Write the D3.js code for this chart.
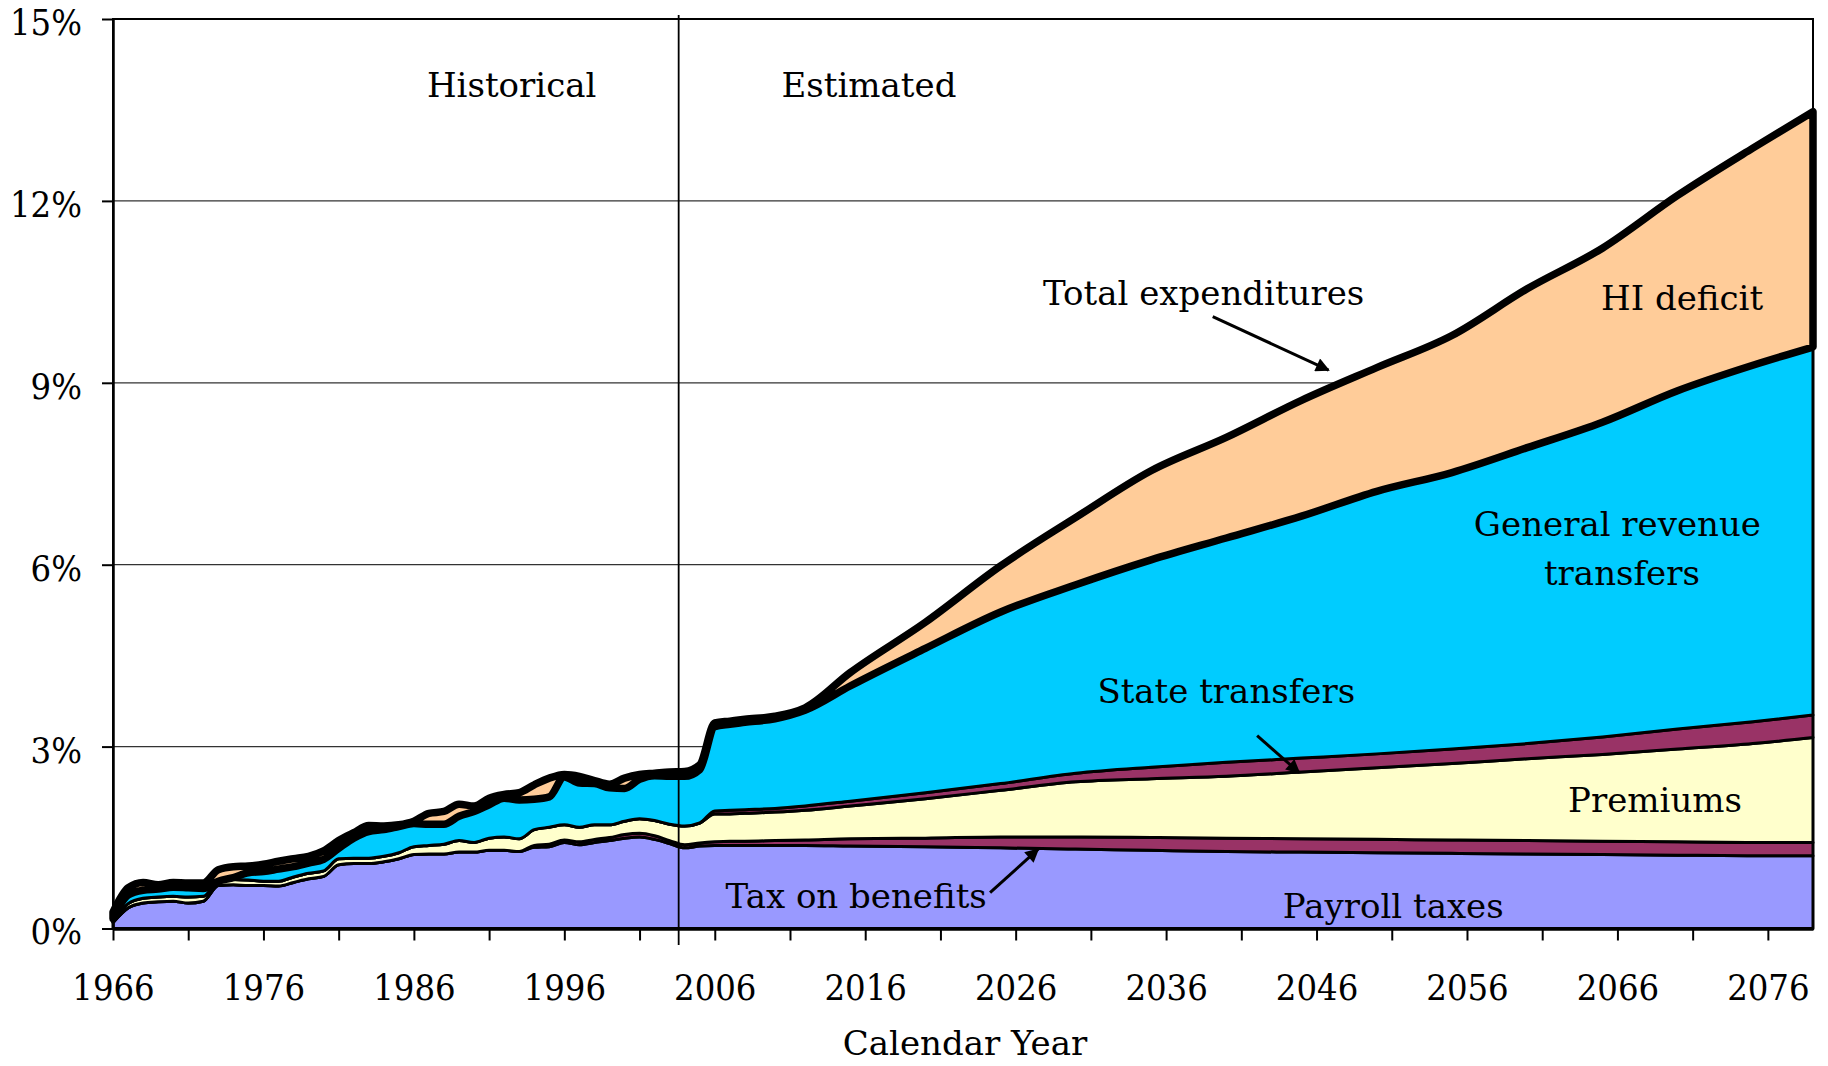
<!DOCTYPE html>
<html>
<head>
<meta charset="utf-8">
<script src="https://cdnjs.cloudflare.com/ajax/libs/d3/7.8.5/d3.min.js"></script>
<style>
  body { margin: 0; background: #fff; }
  svg text { font-family: "DejaVu Serif", serif; fill: #000; }
</style>
</head>
<body>
<svg id="chart" width="1828" height="1066"></svg>
<script>
// years: annual history, then sparser points for the projection
var years = [1966,1967,1968,1969,1970,1971,1972,1973,1974,1975,
             1976,1977,1978,1979,1980,1981,1982,1983,1984,1985,
             1986,1987,1988,1989,1990,1991,1992,1993,1994,1995,
             1996,1997,1998,1999,2000,2001,2002,2003,2004,2005,
             2006,2007,2008,2010,2012,2015,
             2020,2025,2030,2035,2040,2045,2050,2055,2060,2065,2070,2075,2079];

// % of GDP for each source (stacked bottom to top)
var payroll = [.10,.34,.42,.44,.45,.42,.45,.71,.72,.71,
               .71,.70,.76,.82,.86,1.05,1.07,1.07,1.10,1.15,
               1.22,1.23,1.23,1.26,1.26,1.29,1.29,1.27,1.34,1.35,
               1.42,1.38,1.42,1.45,1.49,1.51,1.47,1.40,1.33,1.36,
               1.37,1.37,1.37,1.37,1.37,1.36,
               1.35,1.33,1.31,1.29,1.27,1.26,1.25,1.24,1.23,1.22,1.21,1.20,1.20];
var taxOnBenefits = [0,0,0,0,0,0,0,0,0,0,
                     0,0,0,0,0,0,0,0,0,0,
                     0,0,0,0,0,0,0,0,.03,.04,
                     .04,.05,.05,.05,.06,.06,.06,.05,.05,.05,
                     .06,.07,.07,.08,.09,.12,
                     .14,.18,.20,.21,.22,.22,.22,.22,.22,.22,.22,.22,.22];
var premiums = [.03,.07,.08,.08,.08,.10,.08,.07,.09,.09,
                .07,.08,.09,.09,.09,.10,.09,.09,.09,.10,
                .13,.14,.16,.19,.16,.20,.22,.21,.26,.28,
                .25,.24,.24,.21,.22,.24,.25,.27,.31,.33,
                .46,.45,.46,.47,.49,.54,
                .65,.77,.91,.97,1.02,1.10,1.18,1.26,1.35,1.43,1.53,1.63,1.73];
var stateTransfers = [0,0,0,0,0,0,0,0,0,0,
                      0,0,0,0,0,0,0,0,0,0,
                      0,0,0,0,0,0,0,0,0,0,
                      0,0,0,0,0,0,0,0,0,0,
                      .05,.06,.06,.06,.07,.08,
                      .10,.11,.14,.19,.23,.23,.23,.24,.25,.29,.33,.36,.37];
var generalRevenue = [.03,.14,.13,.13,.15,.15,.13,0,.03,.12,
                      .16,.20,.17,.17,.19,.17,.33,.44,.44,.43,
                      .38,.35,.33,.40,.51,.55,.64,.64,.50,.50,
                      .79,.73,.68,.61,.54,.65,.74,.79,.82,.88,
                      1.39,1.42,1.44,1.48,1.58,1.90,
                      2.38,2.83,3.11,3.42,3.70,3.99,4.33,4.56,4.88,5.19,5.58,5.88,6.07];
var hiDeficit = [.11,.12,.13,.07,.08,.08,.09,.19,.18,.11,
                 .12,.13,.13,.11,.14,.13,.09,.10,.06,.03,
                 .04,.18,.21,.20,.09,.11,.06,.12,.24,.31,
                 .04,.11,.05,.06,.17,.08,.04,.07,.08,.08,
                 .06,.05,.05,.04,.04,.22,
                 .43,.76,1.11,1.47,1.66,1.91,2.04,2.26,2.62,2.87,3.22,3.58,3.88];

var yTicks = [0, 3, 6, 9, 12, 15];
var xTicks = d3.range(1966, 2080, 5);
var lastHistorical = 2003.6;   // boundary between historical and estimated

var keys = ['payroll', 'taxOnBenefits', 'premiums', 'stateTransfers', 'generalRevenue', 'hiDeficit'];
var colors = {
    payroll: '#9999FF',
    taxOnBenefits: '#993366',
    premiums: '#FFFFCC',
    stateTransfers: '#993366',
    generalRevenue: '#00CCFF',
    hiDeficit: '#FFCC99'
};

var rows = years.map(function (yr, i) {
    return {
        year: yr,
        payroll: payroll[i],
        taxOnBenefits: taxOnBenefits[i],
        premiums: premiums[i],
        stateTransfers: stateTransfers[i],
        generalRevenue: generalRevenue[i],
        hiDeficit: hiDeficit[i]
    };
});

var svg = d3.select('#chart');

var x = d3.scaleLinear().domain([1966, 2079]).range([113, 1813]);
var y = d3.scaleLinear().domain([0, 15]).range([928.5, 19]);

// gridlines (behind the areas)
svg.append('g').selectAll('line')
    .data(yTicks.filter(function (d) { return d > 0 && d < 15; }))
    .enter().append('line')
    .attr('x1', x(1966)).attr('x2', x(2079))
    .attr('y1', function (d) { return y(d); })
    .attr('y2', function (d) { return y(d); })
    .attr('stroke', '#333').attr('stroke-width', 1.2);

// stacked areas
var series = d3.stack().keys(keys)(rows);

var area = d3.area()
    .x(function (d) { return x(d.data.year); })
    .y0(function (d) { return y(d[0]); })
    .y1(function (d) { return y(d[1]); })
    .curve(d3.curveMonotoneX);

svg.append('g').selectAll('path')
    .data(series)
    .enter().append('path')
    .attr('d', area)
    .attr('fill', function (d) { return colors[d.key]; })
    .attr('stroke', '#000')
    .attr('stroke-linejoin', 'round')
    .attr('stroke-width', function (d) { return d.key === 'hiDeficit' ? 7.5 : 3; });

// plot frame
svg.append('rect')
    .attr('x', x(1966)).attr('y', y(15))
    .attr('width', x(2079) - x(1966)).attr('height', y(0) - y(15))
    .attr('fill', 'none').attr('stroke', '#000').attr('stroke-width', 2);

// y axis
var yAxis = d3.axisLeft(y)
    .tickValues(yTicks)
    .tickFormat(function (d) { return d + '%'; })
    .tickSize(11).tickSizeOuter(0).tickPadding(20);

var gy = svg.append('g').attr('transform', 'translate(' + x(1966) + ',0)').call(yAxis);
gy.select('.domain').attr('stroke-width', 2.5);
gy.selectAll('.tick line').attr('stroke-width', 2);
gy.selectAll('.tick text')
    .attr('dy', '0.43em')
    .style('font-family', '"DejaVu Serif", serif')
    .style('font-stretch', 'condensed')
    .style('font-size', '36px');

// x axis
var xAxis = d3.axisBottom(x)
    .tickValues(xTicks)
    .tickFormat(function (d) { return (d - 1966) % 10 === 0 ? d : ''; })
    .tickSize(12).tickSizeOuter(0).tickPadding(34);

var gx = svg.append('g').attr('transform', 'translate(0,' + y(0) + ')').call(xAxis);
gx.select('.domain').attr('stroke-width', 3.5);
gx.selectAll('.tick line').attr('stroke-width', 2);
gx.selectAll('.tick text')
    .style('font-family', '"DejaVu Serif", serif')
    .style('font-stretch', 'condensed')
    .style('font-size', '36px');

// historical / estimated divider
svg.append('line')
    .attr('x1', x(lastHistorical)).attr('x2', x(lastHistorical))
    .attr('y1', 15).attr('y2', 945)
    .attr('stroke', '#000').attr('stroke-width', 1.8);

// axis title
svg.append('text')
    .attr('x', 965).attr('y', 1055)
    .attr('text-anchor', 'middle')
    .style('font-size', '34px')
    .text('Calendar Year');

// labels, placed in chart units [year, %]
var labels = [
    { text: 'Historical', at: [1992.5, 13.71] },
    { text: 'Estimated', at: [2016.25, 13.71] },
    { text: 'Total expenditures', at: [2038.5, 10.29] },
    { text: 'HI deficit', at: [2070.3, 10.2] },
    { text: 'General revenue', at: [2066.0, 6.47] },
    { text: 'transfers', at: [2066.3, 5.67] },
    { text: 'State transfers', at: [2040.0, 3.72] },
    { text: 'Premiums', at: [2068.5, 1.92] },
    { text: 'Tax on benefits', at: [2015.4, 0.33] },
    { text: 'Payroll taxes', at: [2051.1, 0.17] }
];

svg.append('g').selectAll('text')
    .data(labels)
    .enter().append('text')
    .attr('x', function (d) { return x(d.at[0]); })
    .attr('y', function (d) { return y(d.at[1]); })
    .attr('text-anchor', 'middle')
    .style('font-size', '34px')
    .text(function (d) { return d.text; });

// arrows
svg.append('defs').append('marker')
    .attr('id', 'head')
    .attr('viewBox', '0 0 10 10')
    .attr('refX', 9).attr('refY', 5)
    .attr('markerUnits', 'userSpaceOnUse')
    .attr('markerWidth', 17).attr('markerHeight', 14)
    .attr('orient', 'auto')
    .append('path')
    .attr('d', 'M0,0 L10,5 L0,10 z')
    .attr('fill', '#000');

var arrows = [
    { from: [2039.1, 10.09], to: [2046.8, 9.21] },
    { from: [2042.05, 3.18], to: [2044.85, 2.57] },
    { from: [2024.3, 0.59], to: [2027.5, 1.31] }
];

svg.append('g').selectAll('line')
    .data(arrows)
    .enter().append('line')
    .attr('x1', function (d) { return x(d.from[0]); })
    .attr('y1', function (d) { return y(d.from[1]); })
    .attr('x2', function (d) { return x(d.to[0]); })
    .attr('y2', function (d) { return y(d.to[1]); })
    .attr('stroke', '#000').attr('stroke-width', 3)
    .attr('marker-end', 'url(#head)');
</script>
</body>
</html>
